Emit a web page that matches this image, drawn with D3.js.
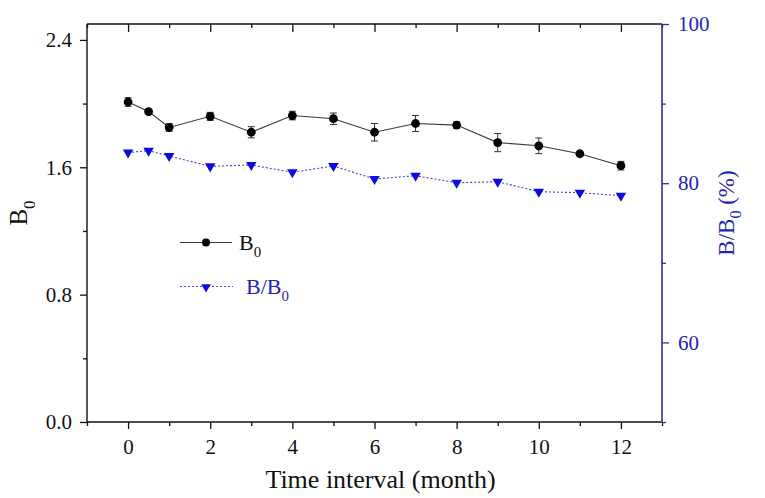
<!DOCTYPE html>
<html>
<head>
<meta charset="utf-8">
<script src="https://cdn.jsdelivr.net/npm/d3@7"></script>
<style>
  body { margin: 0; background: #fff; }
  text { font-family: "Liberation Serif", "Times New Roman", serif; }
</style>
</head>
<body>
<div id="chart"></div>
<script>
// Data
const months = [0, 0.5, 1, 2, 3, 4, 5, 6, 7, 8, 9, 10, 11, 12];
const b0 = [2.01, 1.95, 1.85, 1.92, 1.82, 1.925, 1.905, 1.82, 1.875, 1.865, 1.755, 1.735, 1.685, 1.61];
const b0Err = [0.027, 0.01, 0.024, 0.025, 0.035, 0.027, 0.036, 0.055, 0.05, 0.02, 0.057, 0.049, 0.012, 0.027];
const ratio = [83.86, 84.08, 83.42, 82.12, 82.29, 81.37, 82.16, 80.53, 80.94, 80.06, 80.19, 78.93, 78.81, 78.43];
const xTicks = [0, 2, 4, 6, 8, 10, 12];
const xMinor = [-1, 1, 3, 5, 7, 9, 11, 13];
const yTicks = [0, 0.8, 1.6, 2.4];
const yMinor = [0.4, 1.2, 2.0];
const y2Ticks = [60, 80, 100];
const y2Minor = [50, 70, 90];

const W = 765, H = 498;
const M = { TOP: 24, BOTTOM: 76, LEFT: 87, RIGHT: 103 };
const IW = W - M.LEFT - M.RIGHT;
const IH = H - M.TOP - M.BOTTOM;
const SERIF = '"Liberation Serif", "Times New Roman", serif';

const BLUE_AXIS = '#2e2e9c';
const BLUE_TEXT = '#2323b4';
const BLUE_MARK = '#0b0be0';

const svg = d3.select('#chart').append('svg')
  .attr('width', W).attr('height', H);
const g = svg.append('g').attr('transform', `translate(${M.LEFT},${M.TOP})`);

const x = d3.scaleLinear().domain([-1, 13]).range([0, IW]);
const y = d3.scaleLinear().domain([0, 2.5]).range([IH, 0]);
const y2 = d3.scaleLinear().domain([50, 100]).range([IH, 0]);

// Axes: major + minor ticks drawn as separate axis calls
function styleAxis(sel, color) {
  sel.attr('font-family', SERIF).attr('font-size', 21);
  sel.select('.domain').remove();
  sel.selectAll('line').attr('stroke', color).attr('stroke-width', 1.3);
  sel.selectAll('text').attr('fill', color)
    .style('font-family', SERIF).style('font-size', '21px');
}

const xAxis = g.append('g').attr('transform', `translate(0,${IH})`)
  .call(d3.axisBottom(x).tickValues(xTicks).tickSize(7).tickPadding(10).tickFormat(d3.format('d')));
styleAxis(xAxis, '#111');
const xAxisMinor = g.append('g').attr('transform', `translate(0,${IH})`)
  .call(d3.axisBottom(x).tickValues(xMinor).tickSize(4).tickFormat(''));
styleAxis(xAxisMinor, '#111');

const xTop = g.append('g')
  .call(d3.axisBottom(x).tickValues(xTicks).tickSize(8).tickFormat(''));
styleAxis(xTop, '#111');
const xTopMinor = g.append('g')
  .call(d3.axisBottom(x).tickValues(xMinor).tickSize(4).tickFormat(''));
styleAxis(xTopMinor, '#111');

const yAxis = g.append('g')
  .call(d3.axisLeft(y).tickValues(yTicks).tickSize(7).tickPadding(8).tickFormat(d3.format('.1f')));
styleAxis(yAxis, '#111');
const yAxisMinor = g.append('g')
  .call(d3.axisLeft(y).tickValues(yMinor).tickSize(4).tickFormat(''));
styleAxis(yAxisMinor, '#111');

const y2Axis = g.append('g').attr('transform', `translate(${IW},0)`)
  .call(d3.axisRight(y2).tickValues(y2Ticks).tickSize(7).tickPadding(9).tickFormat(d3.format('d')));
styleAxis(y2Axis, BLUE_TEXT);
y2Axis.selectAll('line').attr('stroke', BLUE_AXIS);
const y2AxisMinor = g.append('g').attr('transform', `translate(${IW},0)`)
  .call(d3.axisRight(y2).tickValues(y2Minor).tickSize(4).tickFormat(''));
styleAxis(y2AxisMinor, BLUE_AXIS);

// Frame lines
g.append('line').attr('x1', 0).attr('x2', IW).attr('y1', 0).attr('y2', 0)
  .attr('stroke', '#111').attr('stroke-width', 1.4);
g.append('line').attr('x1', 0).attr('x2', IW).attr('y1', IH).attr('y2', IH)
  .attr('stroke', '#111').attr('stroke-width', 1.4);
g.append('line').attr('x1', 0).attr('x2', 0).attr('y1', 0).attr('y2', IH)
  .attr('stroke', '#111').attr('stroke-width', 1.4);
g.append('line').attr('x1', IW).attr('x2', IW).attr('y1', 0).attr('y2', IH)
  .attr('stroke', BLUE_AXIS).attr('stroke-width', 1.6);

// B/B0 series (right axis), dotted blue
const ratioData = months.map((m, i) => ({ m, v: ratio[i] }));
g.append('path').datum(ratioData)
  .attr('fill', 'none')
  .attr('stroke', '#4646cc')
  .attr('stroke-width', 1.1)
  .attr('stroke-dasharray', '2,2')
  .attr('d', d3.line().x(d => x(d.m)).y(d => y2(d.v)));

const tri = d3.symbol().type(d3.symbolTriangle).size(48);
g.append('g').selectAll('path').data(ratioData).enter().append('path')
  .attr('d', tri)
  .attr('fill', BLUE_MARK)
  .attr('transform', d => `translate(${x(d.m)},${y2(d.v)}) rotate(180)`);

// B0 series (left axis) with error bars
const b0Data = months.map((m, i) => ({ m, v: b0[i], e: b0Err[i] }));
g.append('path').datum(b0Data)
  .attr('fill', 'none')
  .attr('stroke', '#3a3a3a')
  .attr('stroke-width', 1.1)
  .attr('d', d3.line().x(d => x(d.m)).y(d => y(d.v)));

const err = g.append('g').attr('stroke', '#333').attr('stroke-width', 1);
b0Data.forEach(d => {
  const cx = x(d.m), y1 = y(d.v + d.e), y0 = y(d.v - d.e);
  err.append('line').attr('x1', cx).attr('x2', cx).attr('y1', y1).attr('y2', y0);
  err.append('line').attr('x1', cx - 3.5).attr('x2', cx + 3.5).attr('y1', y1).attr('y2', y1);
  err.append('line').attr('x1', cx - 3.5).attr('x2', cx + 3.5).attr('y1', y0).attr('y2', y0);
});

g.append('g').selectAll('circle').data(b0Data).enter().append('circle')
  .attr('cx', d => x(d.m))
  .attr('cy', d => y(d.v))
  .attr('r', 4.4)
  .attr('fill', '#000');

// Axis titles
svg.append('text')
  .attr('x', M.LEFT + IW / 2 + 6)
  .attr('y', 488)
  .attr('text-anchor', 'middle')
  .attr('fill', '#111')
  .style('font-size', '26px')
  .text('Time interval (month)');

const leftTitle = svg.append('text')
  .attr('transform', `translate(27,${M.TOP + IH / 2 - 10}) rotate(-90)`)
  .attr('text-anchor', 'middle')
  .attr('fill', '#111')
  .style('font-size', '25px');
leftTitle.append('tspan').text('B');
leftTitle.append('tspan').attr('dy', 8).style('font-size', '17px').text('0');

const rightTitle = svg.append('text')
  .attr('transform', `translate(734,${M.TOP + IH / 2 - 10}) rotate(-90)`)
  .attr('text-anchor', 'middle')
  .attr('fill', BLUE_TEXT)
  .style('font-size', '23px');
rightTitle.append('tspan').text('B/B');
rightTitle.append('tspan').attr('dy', 7).style('font-size', '16px').text('0');
rightTitle.append('tspan').attr('dy', -7).text(' (%)');

// Legend
const lg = svg.append('g');
lg.append('line').attr('x1', 180).attr('x2', 232).attr('y1', 242.5).attr('y2', 242.5)
  .attr('stroke', '#3a3a3a').attr('stroke-width', 1.1);
lg.append('circle').attr('cx', 206).attr('cy', 242.5).attr('r', 4).attr('fill', '#000');
const lt1 = lg.append('text').attr('x', 239).attr('y', 250).attr('fill', '#111').style('font-size', '22px');
lt1.append('tspan').text('B');
lt1.append('tspan').attr('dy', 7).style('font-size', '15px').text('0');

lg.append('line').attr('x1', 180).attr('x2', 233).attr('y1', 286.5).attr('y2', 286.5)
  .attr('stroke', '#4646cc').attr('stroke-width', 1.1).attr('stroke-dasharray', '2,2');
lg.append('path').attr('d', d3.symbol().type(d3.symbolTriangle).size(40))
  .attr('fill', BLUE_MARK)
  .attr('transform', 'translate(206,287) rotate(180)');
const lt2 = lg.append('text').attr('x', 246).attr('y', 294).attr('fill', BLUE_TEXT).style('font-size', '22px');
lt2.append('tspan').text('B/B');
lt2.append('tspan').attr('dy', 7).style('font-size', '15px').text('0');
</script>
</body>
</html>
